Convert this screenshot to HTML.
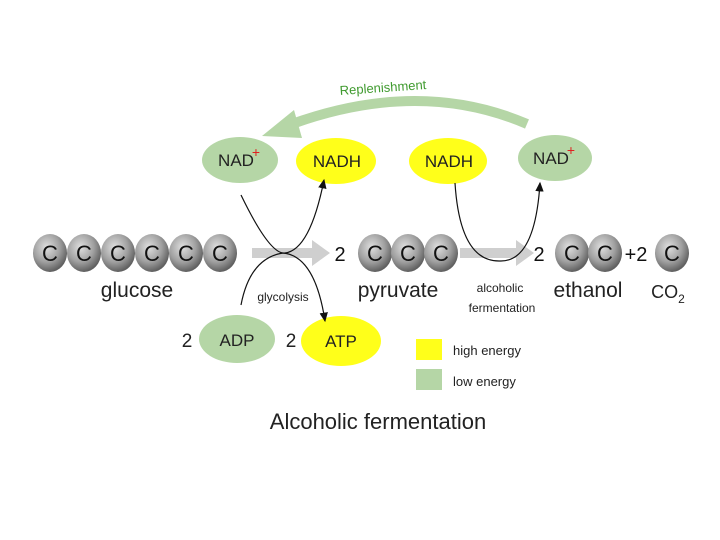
<!DOCTYPE html>
<html><head><meta charset="utf-8"><style>body{margin:0;background:#fff}svg{display:block}</style></head><body>
<svg width="720" height="540" viewBox="0 0 720 540" xmlns="http://www.w3.org/2000/svg" font-family="Liberation Sans, sans-serif">
<defs>
<radialGradient id="g" cx="40%" cy="35%" r="65%"><stop offset="0" stop-color="#e0e0e0"/><stop offset="0.6" stop-color="#a0a0a0"/><stop offset="1" stop-color="#606060"/></radialGradient>
<marker id="ah" markerWidth="10" markerHeight="10" refX="7" refY="5" orient="auto"><path d="M0,1.5 L8,5 L0,8.5 Z" fill="#111"/></marker>
</defs>
<path d="M527,124 Q420,78 292,124" fill="none" stroke="#b5d6a6" stroke-width="10"/>
<path d="M262,136 L294,110 L302,138 Z" fill="#b5d6a6"/>
<text x="383" y="92" font-size="13" fill="#3f9a2e" text-anchor="middle" transform="rotate(-4 383 88)">Replenishment</text>
<path d="M252,248 H312 V240 L330,253 L312,266 V258 H252 Z" fill="#cfcfcf"/>
<path d="M460,248 H516 V240 L534,253 L516,266 V258 H460 Z" fill="#cfcfcf"/>
<g font-size="17" text-anchor="middle" fill="#222">
<ellipse cx="240" cy="160" rx="38" ry="23" fill="#b5d6a6"/><text x="236" y="166">NAD</text><text x="256" y="157" fill="#e02020" font-size="14">+</text>
<ellipse cx="336" cy="161" rx="40" ry="23" fill="#ffff1a"/><text x="337" y="167">NADH</text>
<ellipse cx="448" cy="161" rx="39" ry="23" fill="#ffff1a"/><text x="449" y="167">NADH</text>
<ellipse cx="555" cy="158" rx="37" ry="23" fill="#b5d6a6"/><text x="551" y="164">NAD</text><text x="571" y="155" fill="#e02020" font-size="14">+</text>
<ellipse cx="237" cy="339" rx="38" ry="24" fill="#b5d6a6"/><text x="237" y="346">ADP</text>
<ellipse cx="341" cy="341" rx="40" ry="25" fill="#ffff1a"/><text x="341" y="347">ATP</text>
<text x="187" y="347" font-size="19">2</text><text x="291" y="347" font-size="19">2</text>
</g>
<g fill="none" stroke="#111" stroke-width="1.2">
<path d="M241,195 Q270,255 285,253 Q310,250 324,180" marker-end="url(#ah)"/>
<path d="M241,305 Q250,258 283,253 Q315,256 325,321" marker-end="url(#ah)"/>
<path d="M455,183 Q460,262 500,261 Q535,262 540,183" marker-end="url(#ah)"/>
</g>
<g font-size="22" text-anchor="middle" fill="#111">
<ellipse cx="50" cy="253" rx="17" ry="19" fill="url(#g)"/><ellipse cx="84" cy="253" rx="17" ry="19" fill="url(#g)"/><ellipse cx="118" cy="253" rx="17" ry="19" fill="url(#g)"/><ellipse cx="152" cy="253" rx="17" ry="19" fill="url(#g)"/><ellipse cx="186" cy="253" rx="17" ry="19" fill="url(#g)"/><ellipse cx="220" cy="253" rx="17" ry="19" fill="url(#g)"/>
<ellipse cx="375" cy="253" rx="17" ry="19" fill="url(#g)"/><ellipse cx="408" cy="253" rx="17" ry="19" fill="url(#g)"/><ellipse cx="441" cy="253" rx="17" ry="19" fill="url(#g)"/>
<ellipse cx="572" cy="253" rx="17" ry="19" fill="url(#g)"/><ellipse cx="605" cy="253" rx="17" ry="19" fill="url(#g)"/><ellipse cx="672" cy="253" rx="17" ry="19" fill="url(#g)"/>
<text x="50" y="261">C</text><text x="84" y="261">C</text><text x="118" y="261">C</text><text x="152" y="261">C</text><text x="186" y="261">C</text><text x="220" y="261">C</text>
<text x="375" y="261">C</text><text x="408" y="261">C</text><text x="441" y="261">C</text>
<text x="572" y="261">C</text><text x="605" y="261">C</text><text x="672" y="261">C</text>
<text x="340" y="261" font-size="20">2</text><text x="539" y="261" font-size="20">2</text><text x="636" y="261" font-size="20">+2</text>
</g>
<g fill="#222" text-anchor="middle">
<text x="137" y="297" font-size="21">glucose</text>
<text x="283" y="301" font-size="12">glycolysis</text>
<text x="398" y="297" font-size="21">pyruvate</text>
<text x="500" y="292" font-size="12">alcoholic</text>
<text x="502" y="312" font-size="12">fermentation</text>
<text x="588" y="297" font-size="21">ethanol</text>
<text x="668" y="298" font-size="18">CO<tspan font-size="12" dy="5">2</tspan></text>
</g>
<rect x="416" y="339" width="26" height="21" fill="#ffff1a"/>
<rect x="416" y="369" width="26" height="21" fill="#b5d6a6"/>
<text x="453" y="355" font-size="13" fill="#222">high energy</text>
<text x="453" y="386" font-size="13" fill="#222">low energy</text>
<text x="378" y="429" font-size="22" fill="#222" text-anchor="middle">Alcoholic fermentation</text>
</svg>
</body></html>
